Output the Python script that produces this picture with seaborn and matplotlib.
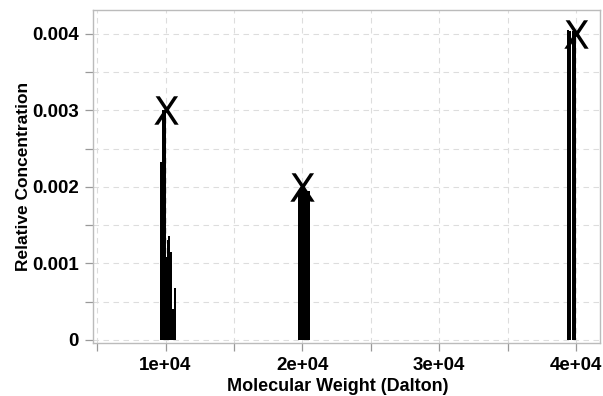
import matplotlib
matplotlib.use("Agg")
import matplotlib.pyplot as plt
import seaborn as sns
import numpy as np
import pandas as pd
from matplotlib.ticker import MultipleLocator

# ---- data ----
bar_mw = [9700, 9832, 9978, 10095, 10190, 10263, 10388, 10534, 10695,
          19760, 19900, 20040, 20180, 20320, 20460,
          39390, 39570, 39770, 39890]
bar_conc = [0.00233, 0.0030, 0.0030, 0.00108, 0.00130, 0.00136, 0.00115, 0.00040, 0.00068,
            0.00195, 0.00197, 0.00198, 0.00196, 0.00195, 0.00194,
            0.00405, 0.00403, 0.00403, 0.00403]
peak_mw = [10000, 20000, 40000]
peak_conc = [0.003, 0.002, 0.004]
x_ticks = [10000, 20000, 30000, 40000]
x_ticklabels = ["1e+04", "2e+04", "3e+04", "4e+04"]
y_ticks = [0, 0.001, 0.002, 0.003, 0.004]
y_ticklabels = ["0", "0.001", "0.002", "0.003", "0.004"]

sns.set_style("white")
plt.rcParams['font.family'] = ['Liberation Sans', 'DejaVu Sans']
plt.rcParams['text.color'] = 'black'
plt.rcParams['axes.labelcolor'] = 'black'

fig = plt.figure(figsize=(6.03, 3.96), dpi=100)
ax = fig.add_axes([93/603, 53/396, (600-93)/603, (343-10)/396])

df_bars = pd.DataFrame({"mw": bar_mw, "conc": bar_conc})
df_peaks = pd.DataFrame({"mw": peak_mw, "conc": peak_conc})

ax.bar(df_bars["mw"], df_bars["conc"], width=155, color="black",
       edgecolor="none", linewidth=0, zorder=3)
sns.scatterplot(data=df_peaks, x="mw", y="conc", marker=r"$\mathsf{X}$",
                s=420, color="black", linewidth=0, ax=ax, zorder=4)

ax.set_xlim(4700, 41750)
ax.set_ylim(-0.00004, 0.00431)

ax.set_xticks(x_ticks)
ax.set_xticklabels(x_ticklabels)
ax.set_yticks(y_ticks)
ax.set_yticklabels(y_ticklabels)
ax.xaxis.set_minor_locator(MultipleLocator(5000))
ax.yaxis.set_minor_locator(MultipleLocator(0.0005))

ax.grid(True, which="both", color="#dddddd", linestyle=(0, (5, 4)), linewidth=0.8, zorder=0)
ax.set_axisbelow(True)

for s in ax.spines.values():
    s.set_color("#bbbbbb")
    s.set_linewidth(1.0)

ax.tick_params(which="both", direction="out", length=6, width=0.9,
               bottom=True, left=True, color="#999999")
ax.tick_params(axis="both", which="major", labelsize=13.5, pad=4, labelcolor="black")
for lab in ax.get_xticklabels() + ax.get_yticklabels():
    lab.set_fontweight("bold")

ax.set_xlabel("Molecular Weight (Dalton)", fontsize=13, fontweight="bold", labelpad=4, color="black")
ax.set_ylabel("Relative Concentration", fontsize=12.5, fontweight="bold", labelpad=1, color="black")
ax.xaxis.set_label_coords((338 - 93) / 507, -0.105)

fig.savefig("out.png", dpi=100)
